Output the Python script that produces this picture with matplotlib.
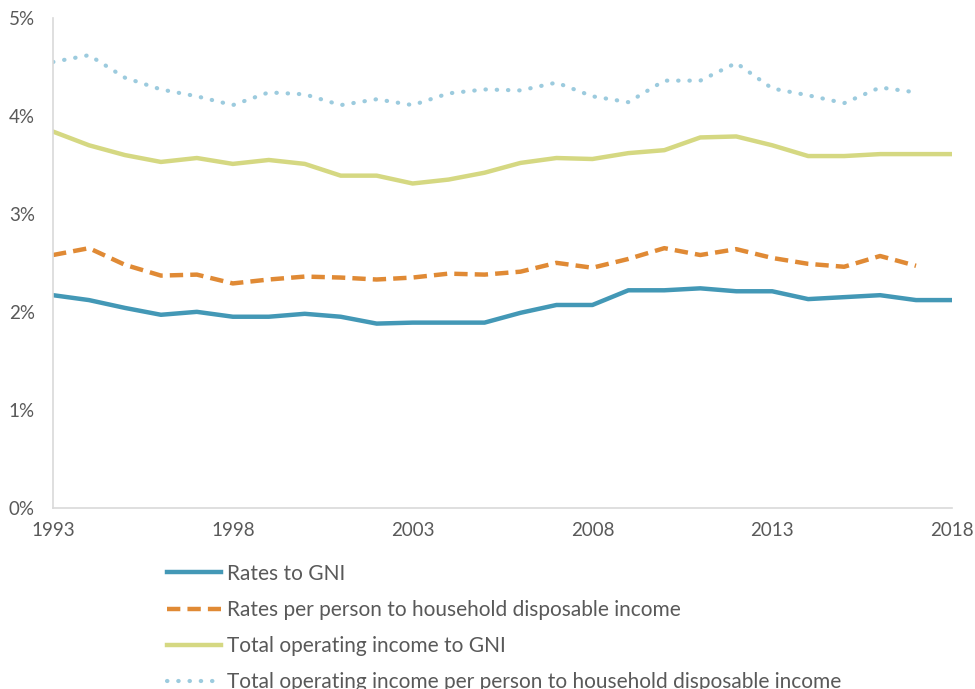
import matplotlib
matplotlib.use("Agg")
import matplotlib.pyplot as plt
from matplotlib.ticker import FuncFormatter

plt.rcParams['font.family'] = ['Lato', 'DejaVu Sans']

years = list(range(1993, 2019))

rates_gni = [2.17, 2.12, 2.04, 1.97, 2.00, 1.95, 1.95, 1.98, 1.95, 1.88, 1.89, 1.89, 1.89,
             1.99, 2.07, 2.07, 2.22, 2.22, 2.24, 2.21, 2.21, 2.13, 2.15, 2.17, 2.12, 2.12]
rates_pp = [2.58, 2.65, 2.48, 2.37, 2.38, 2.29, 2.33, 2.36, 2.35, 2.33, 2.35, 2.39, 2.38,
            2.41, 2.50, 2.45, 2.54, 2.65, 2.58, 2.64, 2.55, 2.49, 2.46, 2.57, 2.47]
toi_gni = [3.84, 3.70, 3.60, 3.53, 3.57, 3.51, 3.55, 3.51, 3.39, 3.39, 3.31, 3.35, 3.42,
           3.52, 3.57, 3.56, 3.62, 3.65, 3.78, 3.79, 3.70, 3.59, 3.59, 3.61, 3.61, 3.61]
toi_pp = [4.55, 4.62, 4.39, 4.27, 4.20, 4.11, 4.24, 4.22, 4.11, 4.17, 4.11, 4.23, 4.27,
          4.26, 4.34, 4.20, 4.14, 4.36, 4.36, 4.54, 4.28, 4.21, 4.13, 4.29, 4.24]

labels = ["Rates to GNI",
          "Rates per person to household disposable income",
          "Total operating income to GNI",
          "Total operating income per person to household disposable income"]

fig = plt.figure(figsize=(9.75, 6.89), dpi=100)
ax = fig.add_axes([0.0544, 0.263, 0.922, 0.711])

ax.plot(years, rates_gni, color="#4398b6", lw=3.2, label=labels[0])
ax.plot(years[:len(rates_pp)], rates_pp, color="#e08a35", lw=3.2, ls=(0, (3, 1.6)),
        label=labels[1])
ax.plot(years, toi_gni, color="#d5d882", lw=3.2, label=labels[2])
ax.plot(years[:len(toi_pp)], toi_pp, color="#9ccbde", lw=3.0, ls=(0, (0.1, 2.6)),
        dash_capstyle="round", solid_capstyle="round", label=labels[3])

ax.set_xlim(1993, 2018)
ax.set_ylim(0, 5)
ax.set_xticks(range(1993, 2019, 5))
ax.set_yticks(range(0, 6))
ax.yaxis.set_major_formatter(FuncFormatter(lambda v, p: f"{v:.0f}%"))
ax.tick_params(length=0, labelsize=13.5, colors="#595959")
ax.tick_params(axis="x", pad=10)
ax.tick_params(axis="y", pad=13)
for s in ["top", "right"]:
    ax.spines[s].set_visible(False)
for s in ["left", "bottom"]:
    ax.spines[s].set_color("#d9d9d9")
    ax.spines[s].set_linewidth(1.2)

leg = fig.legend(loc="upper left", bbox_to_anchor=(0.152, 0.209), frameon=False,
                 handlelength=2.6, handletextpad=0.3, labelspacing=0.78,
                 labelcolor="#595959", prop={"size": 15})

fig.savefig("out.png", dpi=100)
